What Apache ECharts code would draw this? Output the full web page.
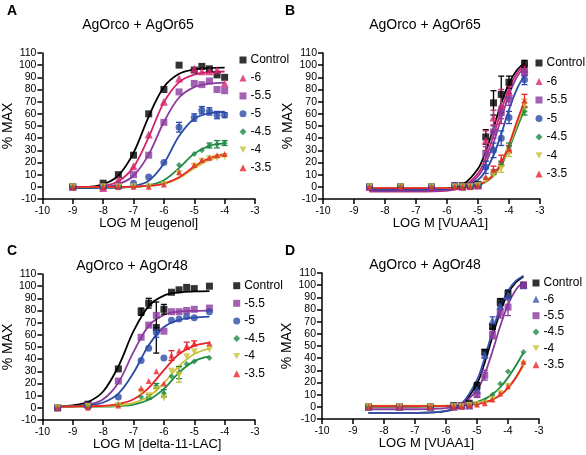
<!DOCTYPE html>
<html><head><meta charset="utf-8">
<script src="https://cdn.jsdelivr.net/npm/echarts@6/dist/echarts.min.js"></script>
<style>html,body{margin:0;padding:0;background:#fff}#c{width:586px;height:455px}</style>
</head><body><div id="c"></div>
<script>
// ---------- Panel A (eugenol) ----------
const A_x = [-9, -8, -7.5, -7, -6.5, -6, -5.5, -5, -4.75, -4.5, -4.25, -4];
const A_control = [0, 3, 10, 26, 60, 80, 100, 96, 99, 97, 92, 90];
const A_m6   = [0, -1, 6, 17, 43, 70, 89, 97, 95, 95, 96, 85];
const A_m55  = [0, 0, 1, 10, 26, 53, 78, 85, 84, 87, 80, 79];
const A_m5   = [0, 0, 0, 3, 8, 20, 49, 57, 63, 62, 59, 59];
const A_m45  = [0, 0, 0, 0, 1, 3, 18, 27, 30, 34, 35, 36];
const A_m4   = [0, 0, 0, 0, 0, 2, 11, 17, 21, 23, 24, 25];
const A_m35  = [0, 0, 0, 0, 0, 2, 12, 18, 22, 24, 26, 27];
const A_err_m5  = [0, 0, 0, 0, 0, 0, 4, 3, 3, 3, 3, 2];
const A_err_m45 = [0, 0, 0, 0, 0, 0, 0, 0, 0, 2, 3, 2];
const A_fitX = [-9, -8.5, -8, -7.5, -7, -6.5, -6, -5.5, -5, -4.5, -4];
const A_fit_control = [-0.7, -0.1, 2.1, 9.3, 27.9, 57.8, 82, 92.9, 96.5, 97.6, 97.9];
const A_fit_m6  = [-0.9, -0.5, 0.6, 4.6, 16.2, 40.9, 69.4, 86.1, 92.3, 94.2, 94.8];
const A_fit_m55 = [-0.9, -0.7, -0.1, 2.1, 9.1, 26.7, 53.3, 73.4, 82, 84.8, 85.7];
const A_fit_m5  = [-1, -1, -0.9, -0.7, 0.5, 5, 19.2, 41.8, 56, 60.5, 61.7];
const A_fit_m45 = [-0.5, -0.5, -0.5, -0.4, -0.1, 1.2, 5.4, 15.4, 27.3, 33.7, 35.7];
const A_fit_m4  = [0, 0, 0, 0, 0.2, 0.75, 2.5, 7.2, 15.2, 22.1, 25.4];
const A_fit_m35 = [0, 0, 0, 0, 0.2, 0.8, 2.7, 7.9, 16.7, 23.7, 26.7];

// ---------- Panel B (VUAA1, AgOr65) ----------
const B_x = [-8.5, -7.5, -6.5, -5.75, -5.5, -5.25, -5, -4.75, -4.5, -4.25, -4, -3.5];
const B_control = [0, 0, 0, 1, 1, 1, 2, 41, 69, 76, 86, 101];
const B_m6   = [0, 0, 0, 1, 0, 1, 1, 38, 57, 66, 78, 97];
const B_m55  = [0, 0, 0, 1, 0, 1, 1, 27, 45, 61, 72, 94];
const B_m5   = [0, 0, 0, 1, 0, 0, 1, 16, 30, 40, 57, 88];
const B_m45  = [0, 0, 0, 0, 0, 0, 1, 7, 12, 19, 33, 62];
const B_m4   = [0, 0, 0, 0, 0, 0, 1, 5, 10, 15, 28, 67];
const B_m35  = [0, 0, 0, 0, 0, 0, 1, 8, 14, 22, 31, 71];
const B_err_control = [0, 0, 0, 0, 0, 0, 0, 6, 10, 15, 5, 3];
const B_err_m6  = [0, 0, 0, 0, 0, 0, 0, 8, 6, 14, 5, 3];
const B_err_m55 = [0, 0, 0, 0, 0, 0, 0, 6, 5, 5, 5, 3];
const B_err_m5  = [0, 0, 0, 0, 0, 0, 0, 5, 6, 6, 5, 4];
const B_err_m45 = [0, 0, 0, 0, 0, 0, 0, 0, 2, 2, 3, 3];
const B_err_m4  = [0, 0, 0, 0, 0, 0, 0, 0, 0, 3, 3, 5];
const B_err_m35 = [0, 0, 0, 0, 0, 0, 0, 0, 3, 4, 3, 5];
const B_fitX = [-8.5, -7, -6, -5.5, -5, -4.75, -4.5, -4.25, -4, -3.75, -3.5];
const B_fit_control = [-3, -2.8, -1.9, 1.6, 14.9, 29.2, 48.4, 68.6, 85, 95.8, 101.9];
const B_fit_m6  = [-4, -4, -3.1, -0.2, 11.1, 23.8, 42.1, 62.7, 80.8, 93.2, 100.5];
const B_fit_m55 = [-3.5, -3.5, -2.8, -0.5, 8.7, 19.5, 36, 56.4, 75.7, 90, 98.7];
const B_fit_m5  = [-2, -2, -1.6, -0.2, 5.8, 13.2, 25.8, 43.5, 63.3, 80.2, 91.6];
const B_fit_m45 = [-1, -1, -0.9, -0.4, 1.4, 4, 9, 17.8, 31.3, 47.9, 63.7];
const B_fit_m4  = [-1, -1, -0.9, -0.4, 1.6, 4.3, 9.5, 18.8, 33, 50.6, 67.2];
const B_fit_m35 = [-1, -1, -0.9, -0.4, 1.7, 4.5, 10.1, 19.8, 34.8, 53.3, 70.8];

// ---------- Panel C (delta-11-LAC) ----------
const C_x = [-9.5, -8.5, -7.5, -6.75, -6.5, -6.25, -6, -5.75, -5.5, -5.25, -5, -4.5];
const C_control = [0, 3, 32, 79, 86, 66, 81, 95, 97, 99, 98, 100];
const C_m55  = [0, 2, 22, 58, 68, 76, 63, 79, 79, 80, 81, 82];
const C_m5   = [0, 1, 9, 39, 49, 62, 41, 72, 73, 75, 74, 79];
const C_m45  = [0, 1, 3, 9, 9, 18, 12, 26, 29, 36, 38, 41];
const C_m4   = [0, 1, 2, 13, 10, 15, 8, 30, 27, 42, 46, 48];
const C_m35  = [0, 0, 2, 16, 22, 30, 20, 43, 47, 51, 53, 53];
const C_err_control = [0, 0, 0, 3, 4, 21, 4, 0, 0, 0, 0, 0];
const C_err_m5  = [0, 0, 0, 0, 0, 4, 0, 0, 0, 0, 0, 0];
const C_err_m45 = [0, 0, 0, 0, 2, 2, 3, 0, 5, 0, 0, 0];
const C_err_m4  = [0, 0, 0, 0, 0, 0, 0, 0, 6, 0, 0, 0];
const C_err_m35 = [0, 0, 0, 0, 0, 0, 0, 4, 0, 3, 2, 0];
const C_fitX = [-9.5, -9, -8.5, -8, -7.5, -7, -6.5, -6, -5.5, -5, -4.5];
const C_fit_control = [1.3, 2.1, 4.8, 13.4, 34, 63, 83.6, 92.2, 94.9, 95.7, 96];
const C_fit_m55 = [1.1, 1.4, 2.6, 7.1, 20.7, 46, 67.4, 76.4, 79.1, 79.7, 79.9];
const C_fit_m5  = [1.1, 1.3, 2, 4.4, 11.7, 28.8, 51.4, 66.4, 72.3, 74.2, 75];
const C_fit_m45 = [1, 1, 1, 1, 1.5, 2.7, 6.6, 15.6, 29, 38.4, 42.3];
const C_fit_m4  = [1, 1, 1, 1.3, 2, 4.1, 9.3, 20.4, 34.3, 44.2, 48.6];
const C_fit_m35 = [1, 1.1, 1.2, 1.7, 3.1, 7, 16.4, 31, 44.2, 51, 53.6];

// ---------- Panel D (VUAA1, AgOr48) ----------
const D_x = [-8.5, -7.5, -6.5, -5.75, -5.5, -5.25, -5, -4.75, -4.5, -4.25, -4, -3.5];
const D_control = [0, 0, 0, 1, 1, 3, 17, 45, 66, 86, 93, 100];
const D_m6   = [0, 0, 0, 0, 1, 1, 14, 43, 71, 83, 92, 100];
const D_m55  = [0, 0, 0, 0, 1, 1, 10, 26, 59, 77, 82, 100];
const D_m45  = [0, 0, 0, 0, 0, 1, 2, 5, 10, 19, 29, 45];
const D_m4   = [0, 0, 0, 0, 0, 1, 2, 3, 6, 11, 17, 35];
const D_m35  = [0, 0, 0, 0, 0, 1, 2, 3, 6, 11, 17, 37];
const D_err_control = [0, 0, 0, 0, 0, 0, 3, 2, 2, 3, 3, 2];
const D_err_m6  = [0, 0, 0, 0, 0, 0, 3, 3, 3, 3, 4, 2];
const D_err_m55 = [0, 0, 0, 0, 0, 0, 2, 4, 3, 4, 7, 2];
const D_fitX = [-8.5, -7, -6, -5.5, -5, -4.75, -4.5, -4.25, -4, -3.75, -3.5];
const D_fit_control = [-5, -4.9, -3.5, 1.4, 19.1, 36.5, 57.9, 78.2, 93.1, 102.2, 107.2];
const D_fit_m6  = [-5, -4.9, -3.3, 2.4, 22.1, 40.5, 62.2, 81.6, 95.3, 103.5, 107.8];
const D_fit_m55 = [-2, -2, -1.1, 2.2, 13.9, 27.1, 45.7, 66.4, 84, 96, 102.9];
const D_fit_m45 = [0, 0, 0.5, 1.5, 4, 6.5, 10.4, 16.1, 24, 33.8, 44.7];
const D_fit_m4  = [1, 1, 1.2, 1.5, 2.7, 3.9, 6.1, 9.6, 15.2, 23.3, 33.9];
const D_fit_m35 = [0.5, 0.5, 0.7, 1.1, 2.3, 3.6, 5.9, 9.6, 15.5, 24.1, 35.3];

// ---------- text ----------
const panelLetters = ['A', 'B', 'C', 'D'];
const panelTitles = ['AgOrco + AgOr65', 'AgOrco + AgOr65', 'AgOrco + AgOr48', 'AgOrco + AgOr48'];
const xNames = ['LOG M [eugenol]', 'LOG M [VUAA1]', 'LOG M [delta-11-LAC]', 'LOG M [VUAA1]'];
const yName = '% MAX';

// ---------- styles ----------
const FONT = 'Liberation Sans, Arial, sans-serif';
const INV_TRI = 'path://M0,0L10,0L5,9Z';
const STY = {
  'Control': {color: '#000000', symbol: 'rect', size: 7},
  '-6':   {color: '#d4246f', symbol: 'triangle', size: 8},
  '-5.5': {color: '#8b3a9e', symbol: 'rect', size: 7},
  '-5':   {color: '#2b4ba8', symbol: 'circle', size: 7},
  '-4.5': {color: '#1e8a44', symbol: 'diamond', size: 6},
  '-4':   {color: '#c9c13a', symbol: INV_TRI, size: 7},
  '-3.5': {color: '#e8232a', symbol: 'triangle', size: 6}
};
const D_m6_color = '#3a52b0';

const panels = [
  {key: 'A', x: A_x, fitX: A_fitX, series: [
    ['Control', A_control, null, A_fit_control],
    ['-6', A_m6, null, A_fit_m6],
    ['-5.5', A_m55, null, A_fit_m55],
    ['-5', A_m5, A_err_m5, A_fit_m5],
    ['-4.5', A_m45, A_err_m45, A_fit_m45],
    ['-4', A_m4, null, A_fit_m4],
    ['-3.5', A_m35, null, A_fit_m35]]},
  {key: 'B', x: B_x, fitX: B_fitX, series: [
    ['Control', B_control, B_err_control, B_fit_control],
    ['-6', B_m6, B_err_m6, B_fit_m6],
    ['-5.5', B_m55, B_err_m55, B_fit_m55],
    ['-5', B_m5, B_err_m5, B_fit_m5],
    ['-4.5', B_m45, B_err_m45, B_fit_m45],
    ['-4', B_m4, B_err_m4, B_fit_m4],
    ['-3.5', B_m35, B_err_m35, B_fit_m35]]},
  {key: 'C', x: C_x, fitX: C_fitX, series: [
    ['Control', C_control, C_err_control, C_fit_control],
    ['-5.5', C_m55, null, C_fit_m55],
    ['-5', C_m5, C_err_m5, C_fit_m5],
    ['-4.5', C_m45, C_err_m45, C_fit_m45],
    ['-4', C_m4, C_err_m4, C_fit_m4],
    ['-3.5', C_m35, C_err_m35, C_fit_m35]]},
  {key: 'D', x: D_x, fitX: D_fitX, series: [
    ['Control', D_control, D_err_control, D_fit_control],
    ['-6', D_m6, D_err_m6, D_fit_m6],
    ['-5.5', D_m55, D_err_m55, D_fit_m55],
    ['-4.5', D_m45, null, D_fit_m45],
    ['-4', D_m4, null, D_fit_m4],
    ['-3.5', D_m35, null, D_fit_m35]]}
];

// layout
const grids = [
  {left: 38, top: 53, width: 217, height: 146},
  {left: 323, top: 53, width: 217, height: 146},
  {left: 38, top: 274, width: 217, height: 146},
  {left: 322, top: 273, width: 217, height: 146}
];
const legendPos = [
  {left: 239.5, top: 53.5, gap: 4.95},
  {left: 535.5, top: 56.5, gap: 5.5},
  {left: 233.2, top: 279.2, gap: 4.6},
  {left: 532.5, top: 276.5, gap: 3.34}
];
const xNamePad = [0, 18, 17, -8];
const titlePos = [[138, 25], [425, 25], [132, 266], [425, 265]];
const letterPos = [[12, 11], [290, 11], [12, 251], [290, 251]];

const xAxes = [], yAxes = [], series = [], legends = [], graphics = [];
panels.forEach((p, gi) => {
  xAxes.push({gridIndex: gi, type: 'value', min: -10, max: -3, interval: 1,
    name: xNames[gi], nameLocation: 'middle', nameGap: 16,
    nameTextStyle: {fontSize: 13, color: '#000', fontFamily: FONT, verticalAlign: 'top', padding: [0, 0, 0, xNamePad[gi]]},
    axisLine: {onZero: false, lineStyle: {color: '#000', width: 1.5}},
    axisTick: {length: 5, lineStyle: {color: '#000', width: 1.5}},
    axisLabel: {fontSize: 10.5, color: '#000', margin: 6.5, fontFamily: FONT},
    splitLine: {show: false}});
  yAxes.push({gridIndex: gi, type: 'value', min: -10, max: 110, interval: 10,
    name: yName, nameLocation: 'middle', nameGap: 25, nameRotate: 90,
    nameTextStyle: {fontSize: 14, color: '#000', fontFamily: FONT},
    axisLine: {onZero: false, lineStyle: {color: '#000', width: 1.5}},
    axisTick: {length: 5, lineStyle: {color: '#000', width: 1.5}},
    axisLabel: {fontSize: 10.5, color: '#000', margin: 6, fontFamily: FONT},
    splitLine: {show: false}});
  const legendData = [];
  p.series.forEach(([nm, ys, errs, fit]) => {
    const st = STY[nm];
    const color = (p.key === 'D' && nm === '-6') ? D_m6_color : st.color;
    const full = p.key + '|' + nm;
    legendData.push(full);
    series.push({type: 'line', name: full + '|fit', xAxisIndex: gi, yAxisIndex: gi,
      data: p.fitX.map((x, i) => [x, fit[i]]), smooth: 0.35, showSymbol: false,
      lineStyle: {color: color, width: 1.8}, itemStyle: {color: color}, silent: true, z: 2});
    if (errs) {
      const ed = [];
      p.x.forEach((x, i) => { if (errs[i] > 0) ed.push([x, ys[i] - errs[i], ys[i] + errs[i]]); });
      series.push({type: 'custom', name: full + '|err', xAxisIndex: gi, yAxisIndex: gi, data: ed, z: 3, silent: true,
        renderItem: (params, api) => {
          const lo = api.coord([api.value(0), api.value(1)]);
          const hi = api.coord([api.value(0), api.value(2)]);
          const w = 3;
          const ls = {stroke: color, lineWidth: 1.3};
          return {type: 'group', children: [
            {type: 'line', shape: {x1: lo[0], y1: lo[1], x2: hi[0], y2: hi[1]}, style: ls},
            {type: 'line', shape: {x1: hi[0] - w, y1: hi[1], x2: hi[0] + w, y2: hi[1]}, style: ls},
            {type: 'line', shape: {x1: lo[0] - w, y1: lo[1], x2: lo[0] + w, y2: lo[1]}, style: ls}
          ]};
        }});
    }
    series.push({type: 'scatter', name: full, xAxisIndex: gi, yAxisIndex: gi,
      data: p.x.map((x, i) => [x, ys[i]]), symbol: st.symbol, symbolSize: st.size,
      itemStyle: {color: color}, z: 4});
  });
  const lp = legendPos[gi];
  legends.push({orient: 'vertical', left: lp.left, top: lp.top, data: legendData,
    itemWidth: 7, itemHeight: 7, itemGap: lp.gap, padding: 0,
    formatter: (n) => n.split('|')[1],
    textStyle: {fontSize: 12, color: '#000', fontFamily: FONT, lineHeight: 13, padding: [0, 0, 0, -1]},
    selectedMode: false});
  graphics.push({type: 'text', x: titlePos[gi][0], y: titlePos[gi][1],
    style: {text: panelTitles[gi], fontSize: 14, fontFamily: FONT, fill: '#000', textAlign: 'center', textVerticalAlign: 'middle'}});
  graphics.push({type: 'text', x: letterPos[gi][0], y: letterPos[gi][1],
    style: {text: panelLetters[gi], fontSize: 14, fontWeight: 'bold', fontFamily: FONT, fill: '#000', textAlign: 'center', textVerticalAlign: 'middle'}});
});

const chart = echarts.init(document.getElementById('c'), null, {renderer: 'canvas'});
chart.setOption({
  animation: false,
  backgroundColor: '#fff',
  grid: grids,
  xAxis: xAxes,
  yAxis: yAxes,
  legend: legends,
  series: series,
  graphic: graphics
});
</script></body></html>
